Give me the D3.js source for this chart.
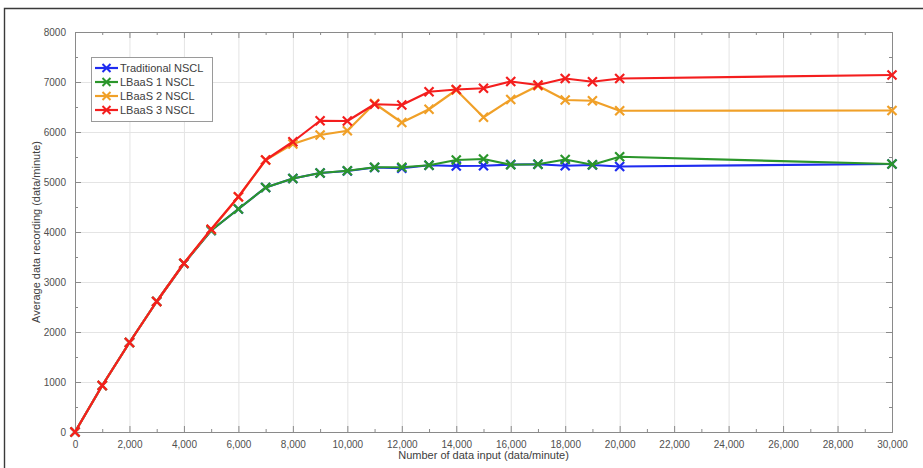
<!DOCTYPE html>
<html>
<head>
<meta charset="utf-8">
<script src="https://cdn.jsdelivr.net/npm/d3@7"></script>
<style>
  html, body { margin: 0; padding: 0; background: #fff; }
  svg { display: block; font-family: Arial, "Liberation Sans", sans-serif; }
</style>
</head>
<body>
<svg id="chart" width="923" height="468"></svg>
<script>
// Data input rate (data/minute)
const inputs = [0, 1000, 2000, 3000, 4000, 5000, 6000, 7000, 8000, 9000, 10000,
  11000, 12000, 13000, 14000, 15000, 16000, 17000, 18000, 19000, 20000, 30000];

// Average data recording (data/minute) per configuration
const traditional = [0, 930, 1790, 2610, 3370, 4030, 4460, 4890, 5070, 5180, 5220,
  5290, 5275, 5335, 5320, 5325, 5350, 5355, 5325, 5340, 5310, 5360];
const lbaas1 = [0, 930, 1790, 2610, 3370, 4030, 4460, 4890, 5070, 5180, 5225,
  5295, 5295, 5335, 5440, 5460, 5345, 5355, 5450, 5345, 5505, 5360];
const lbaas2 = [0, 930, 1790, 2610, 3375, 4050, 4700, 5440, 5760, 5940, 6025,
  6570, 6190, 6455, 6840, 6295, 6650, 6925, 6640, 6625, 6425, 6430];
const lbaas3 = [0, 930, 1790, 2610, 3375, 4055, 4705, 5440, 5805, 6225, 6220,
  6555, 6540, 6805, 6850, 6875, 7010, 6940, 7070, 7005, 7070, 7140];

const seriesNames = ["Traditional NSCL", "LBaaS 1 NSCL", "LBaaS 2 NSCL", "LBaaS 3 NSCL"];
const seriesColors = ["#1f2cf0", "#2b962b", "#f0a028", "#f41e1e"];
const seriesValues = [traditional, lbaas1, lbaas2, lbaas3];

const xTicks = [0, 2000, 4000, 6000, 8000, 10000, 12000, 14000, 16000, 18000, 20000,
  22000, 24000, 26000, 28000, 30000];
const yTicks = [0, 1000, 2000, 3000, 4000, 5000, 6000, 7000, 8000];

const xTitle = "Number of data input (data/minute)";
const yTitle = "Average data recording (data/minute)";

const svg = d3.select("#chart");
const plot = { left: 75, top: 32, right: 892, bottom: 432 };

const x = d3.scaleLinear().domain([0, 30000]).range([plot.left, plot.right]);
const y = d3.scaleLinear().domain([0, 8000]).range([plot.bottom, plot.top]);

// Outer figure frame
svg.append("path")
  .attr("d", `M4.5,${470} L4.5,8.5 L${930},8.5`)
  .attr("fill", "none").attr("stroke", "#3a3a3a").attr("stroke-width", 1.4);

// Grid
const grid = svg.append("g").attr("stroke", "#e4e4e4").attr("stroke-width", 1);
grid.selectAll("line.gx").data(xTicks.slice(1, -1)).join("line")
  .attr("x1", d => x(d) + 0.5).attr("x2", d => x(d) + 0.5)
  .attr("y1", plot.top).attr("y2", plot.bottom);
grid.selectAll("line.gy").data(yTicks.slice(1, -1)).join("line")
  .attr("y1", d => y(d) + 0.5).attr("y2", d => y(d) + 0.5)
  .attr("x1", plot.left).attr("x2", plot.right);

// Axes with inward ticks on all four sides
const xMinor = d3.range(1000, 30000, 2000);
const yMinor = d3.range(500, 8000, 1000);
const tickColor = "#8a8a8a";
function axisGroup(axis, transform) {
  const g = svg.append("g").attr("transform", transform).call(axis);
  g.select(".domain").attr("stroke", tickColor);
  g.selectAll(".tick line").attr("stroke", tickColor);
  g.selectAll("text").attr("fill", "#505050").attr("font-size", 10);
  return g;
}
axisGroup(d3.axisBottom(x).tickValues(xTicks).tickSize(-6).tickSizeOuter(0).tickPadding(9)
  .tickFormat(d => d === 0 ? "0" : d3.format(",")(d)), `translate(0,${plot.bottom})`);
axisGroup(d3.axisTop(x).tickValues(xTicks).tickSize(-6).tickSizeOuter(0).tickFormat(""),
  `translate(0,${plot.top})`);
axisGroup(d3.axisLeft(y).tickValues(yTicks).tickSize(-6).tickSizeOuter(0).tickPadding(9)
  .tickFormat(d3.format("d")), `translate(${plot.left},0)`);
axisGroup(d3.axisRight(y).tickValues(yTicks).tickSize(-6).tickSizeOuter(0).tickFormat(""),
  `translate(${plot.right},0)`);
// minor ticks
axisGroup(d3.axisBottom(x).tickValues(xMinor).tickSize(-3).tickSizeOuter(0).tickFormat(""),
  `translate(0,${plot.bottom})`);
axisGroup(d3.axisTop(x).tickValues(xMinor).tickSize(-3).tickSizeOuter(0).tickFormat(""),
  `translate(0,${plot.top})`);
axisGroup(d3.axisLeft(y).tickValues(yMinor).tickSize(-3).tickSizeOuter(0).tickFormat(""),
  `translate(${plot.left},0)`);
axisGroup(d3.axisRight(y).tickValues(yMinor).tickSize(-3).tickSizeOuter(0).tickFormat(""),
  `translate(${plot.right},0)`);

// Axis titles
svg.append("text")
  .attr("x", (plot.left + plot.right) / 2).attr("y", 459)
  .attr("text-anchor", "middle").attr("font-size", 11).attr("fill", "#404040")
  .text(xTitle);
svg.append("text")
  .attr("transform", `translate(40,${(plot.top + plot.bottom) / 2}) rotate(-90)`)
  .attr("text-anchor", "middle").attr("font-size", 11).attr("fill", "#404040")
  .text(yTitle);

// Series lines with cross markers
const line = d3.line().x((d, i) => x(inputs[i])).y(d => y(d));
const crossPath = s => `M${-s},${-s}L${s},${s}M${-s},${s}L${s},${-s}`;

seriesValues.forEach((vals, k) => {
  const g = svg.append("g");
  g.append("path").datum(vals)
    .attr("d", line)
    .attr("fill", "none")
    .attr("stroke", seriesColors[k])
    .attr("stroke-width", 2.2)
    .attr("stroke-linejoin", "round");
  g.selectAll("path.m").data(vals).join("path")
    .attr("class", "m")
    .attr("transform", (d, i) => `translate(${x(inputs[i])},${y(d)})`)
    .attr("d", crossPath(4.5))
    .attr("stroke", seriesColors[k])
    .attr("stroke-width", 2.2)
    .attr("fill", "none");
});

// Legend
const leg = svg.append("g");
leg.append("rect")
  .attr("x", 91.5).attr("y", 57.5).attr("width", 121).attr("height", 64)
  .attr("fill", "#fff").attr("stroke", "#9a9a9a").attr("stroke-width", 1);
seriesNames.forEach((name, k) => {
  const cy = 68 + k * 14;
  leg.append("line")
    .attr("x1", 95).attr("x2", 118).attr("y1", cy).attr("y2", cy)
    .attr("stroke", seriesColors[k]).attr("stroke-width", 2.2);
  leg.append("path")
    .attr("transform", `translate(106.5,${cy})`)
    .attr("d", crossPath(4))
    .attr("stroke", seriesColors[k]).attr("stroke-width", 2).attr("fill", "none");
  leg.append("text")
    .attr("x", 120).attr("y", cy + 4)
    .attr("font-size", 11).attr("fill", "#404040")
    .text(name);
});
</script>
</body>
</html>
